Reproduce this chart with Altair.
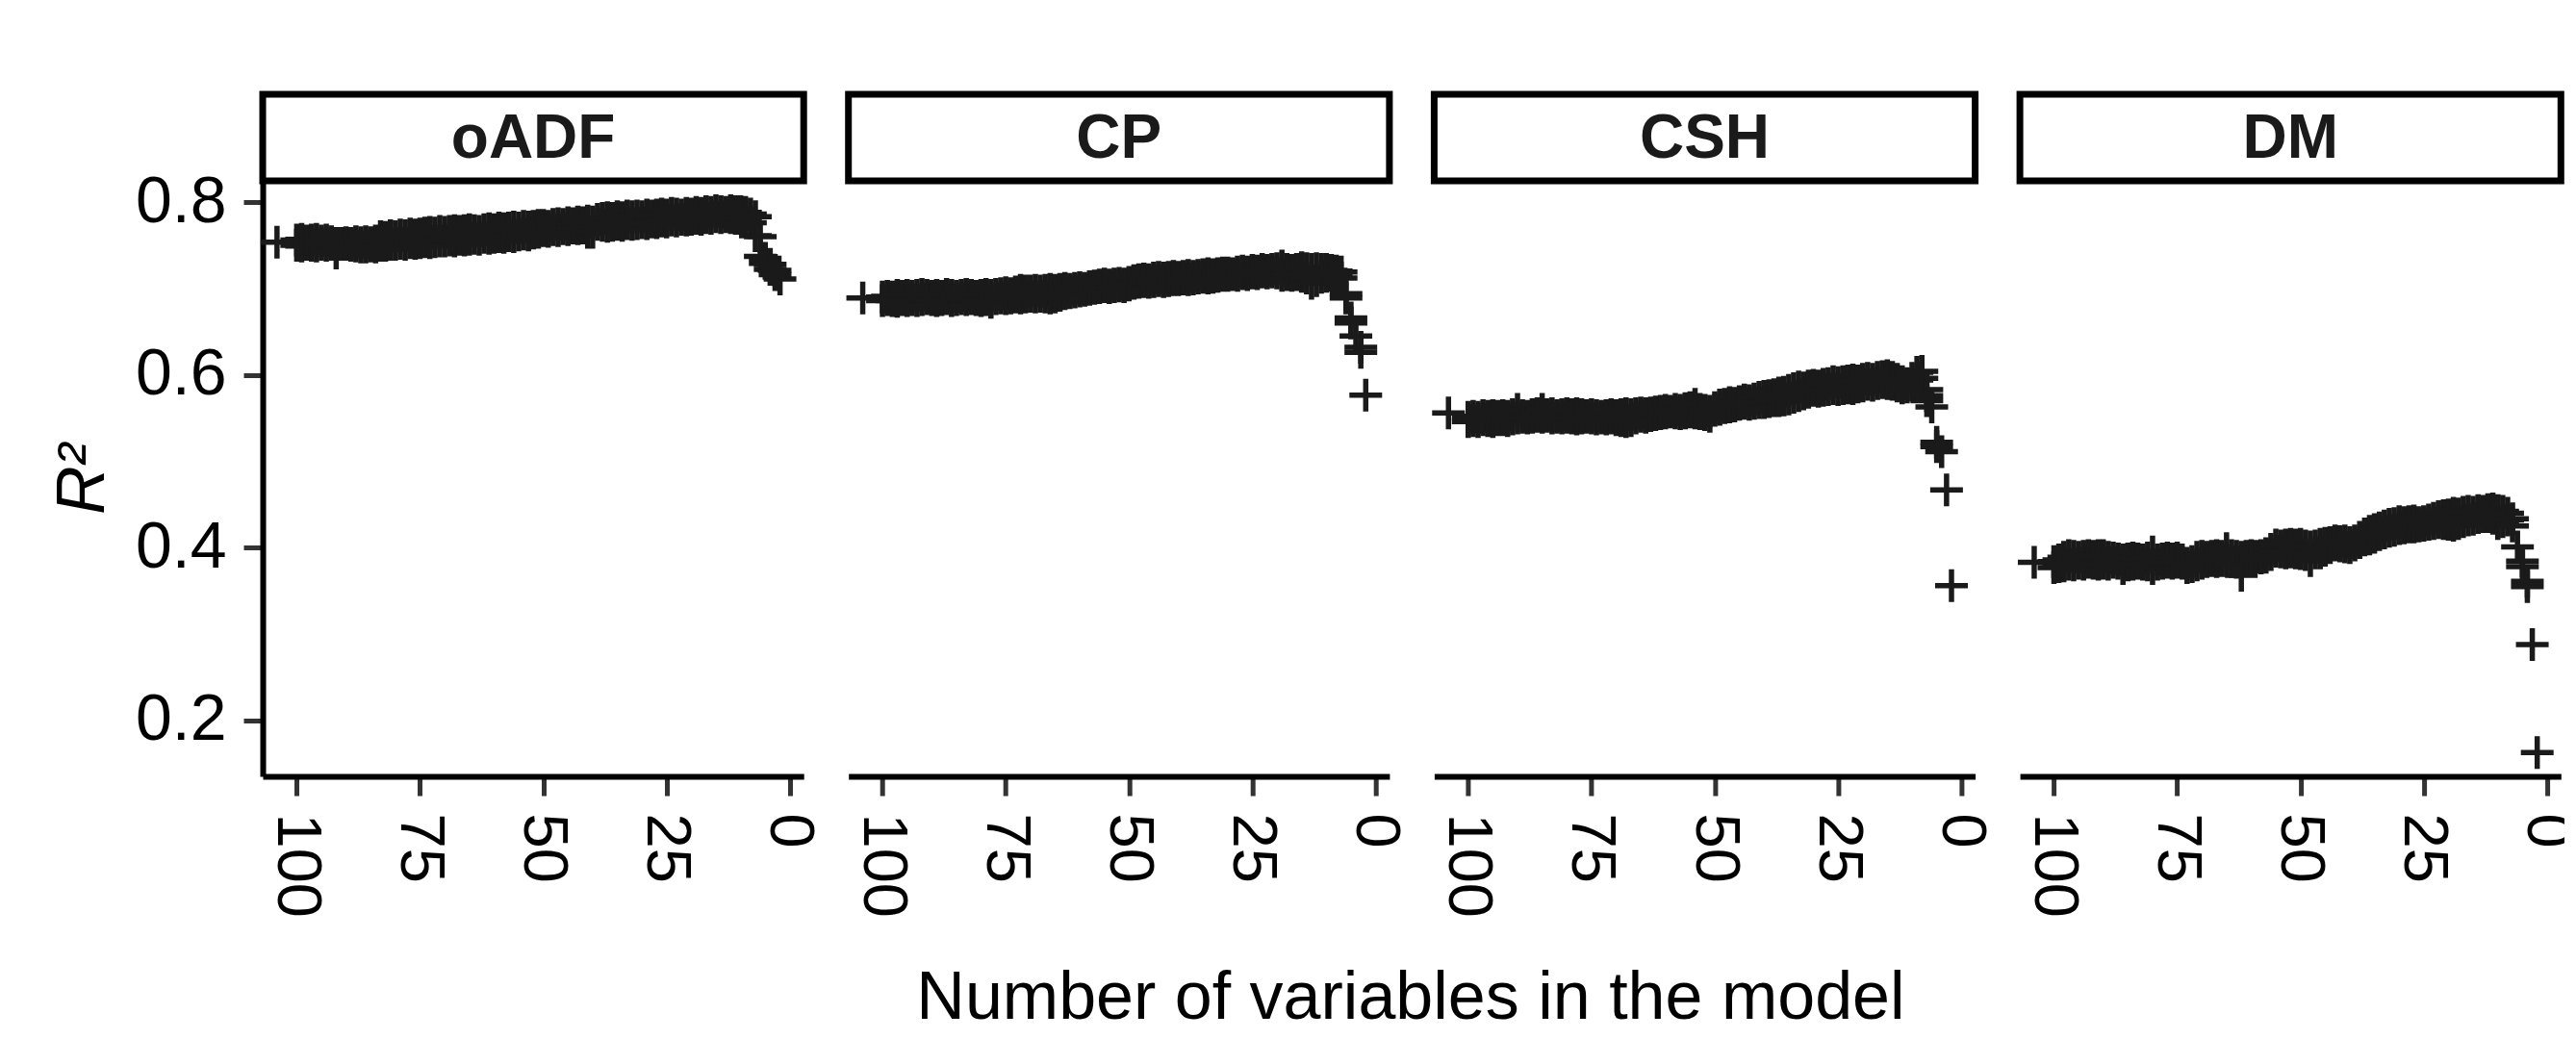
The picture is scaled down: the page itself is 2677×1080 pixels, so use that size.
import altair as alt
import pandas as pd

panels = ["oADF", "CP", "CSH", "DM"]
band_x = list(range(100, 8, -1))  # 100 .. 9

oadf_hi = [.756,.757,.755,.756,.757,.755,.756,.754,.752,.752,
           .753,.752,.754,.753,.754,.753,.755,.760,.759,.761,
           .760,.762,.761,.763,.762,.763,.764,.765,.764,.766,
           .765,.766,.767,.766,.767,.768,.767,.766,.768,.769,
           .768,.770,.769,.770,.771,.770,.772,.771,.772,.773,
           .773,.772,.774,.775,.774,.776,.775,.777,.776,.778,
           .777,.780,.781,.782,.781,.783,.782,.784,.783,.784,
           .783,.785,.784,.785,.786,.785,.787,.786,.785,.787,
           .786,.788,.787,.789,.788,.790,.789,.788,.790,.789,
           .789,.788]
oadf_lo = [.750,.749,.751,.750,.749,.751,.750,.751,.741,.751,
           .751,.750,.749,.748,.748,.749,.748,.750,.750,.751,
           .751,.752,.751,.753,.752,.753,.754,.753,.754,.755,
           .755,.756,.755,.757,.756,.757,.758,.757,.759,.758,
           .759,.760,.759,.761,.760,.762,.763,.762,.764,.765,
           .767,.766,.768,.767,.769,.768,.770,.769,.770,.765,
           .765,.774,.773,.772,.773,.774,.773,.775,.774,.775,
           .776,.775,.777,.776,.778,.777,.779,.778,.780,.779,
           .780,.781,.780,.782,.781,.783,.782,.783,.782,.781,
           .781,.782]
oadf_ex_x = [104, 8, 8, 7, 7, 6, 6, 5, 5, 4, 4, 3, 3, 2]
oadf_ex_v = [0.7536, 0.786, 0.776, 0.783, 0.761, 0.760, 0.737, 0.735, 0.729,
             0.728, 0.722, 0.721, 0.716, 0.711]

cp_hi = [.690,.691,.690,.692,.691,.692,.691,.692,.693,.692,
         .691,.692,.691,.693,.692,.691,.692,.693,.692,.691,
         .692,.693,.692,.693,.694,.695,.694,.696,.698,.697,
         .697,.698,.697,.698,.699,.698,.699,.700,.699,.700,
         .701,.700,.702,.703,.704,.705,.704,.705,.706,.705,
         .707,.709,.710,.711,.710,.712,.713,.712,.713,.714,
         .713,.714,.715,.714,.715,.716,.717,.716,.717,.718,
         .718,.717,.719,.720,.719,.721,.720,.722,.721,.722,
         .723,.726,.722,.721,.722,.724,.723,.722,.723,.722,
         .722,.721]
cp_lo = [.686,.687,.686,.685,.687,.686,.687,.686,.687,.688,
         .687,.686,.687,.688,.686,.687,.688,.687,.688,.687,
         .686,.687,.684,.688,.689,.688,.689,.690,.689,.690,
         .691,.690,.691,.690,.689,.690,.692,.694,.695,.696,
         .697,.698,.699,.700,.701,.702,.701,.702,.703,.702,
         .704,.706,.707,.708,.707,.708,.709,.708,.709,.710,
         .710,.711,.710,.711,.712,.713,.712,.713,.714,.715,
         .715,.716,.715,.717,.716,.718,.717,.719,.718,.719,
         .718,.715,.716,.715,.716,.714,.712,.706,.709,.713,
         .714,.715]
cp_ex_x = [104, 8, 8, 7, 7, 6, 6, 5, 5, 4, 3, 3, 2]
cp_ex_v = [0.689, 0.720, 0.714, 0.719, 0.712, 0.694, 0.689, 0.666, 0.660,
           0.645, 0.632, 0.626, 0.5765]

csh_hi = [.551,.552,.551,.553,.552,.553,.552,.553,.552,.554,
          .560,.553,.552,.554,.555,.560,.554,.555,.553,.554,
          .555,.554,.555,.554,.553,.554,.553,.552,.553,.554,
          .553,.554,.555,.554,.555,.556,.555,.556,.557,.558,
          .559,.558,.560,.559,.561,.562,.566,.560,.559,.558,
          .562,.565,.566,.568,.567,.569,.571,.570,.572,.574,
          .575,.576,.577,.579,.580,.582,.584,.586,.585,.587,
          .588,.587,.589,.590,.592,.591,.592,.593,.594,.593,
          .595,.596,.595,.597,.598,.599,.597,.595,.592,.590,
          .596,.603]
csh_lo = [.546,.547,.546,.548,.547,.546,.548,.548,.547,.549,
          .550,.551,.550,.551,.552,.551,.552,.550,.551,.550,
          .551,.550,.549,.550,.551,.550,.549,.550,.549,.550,
          .548,.547,.546,.547,.550,.552,.551,.553,.554,.555,
          .556,.557,.556,.555,.556,.557,.556,.555,.554,.552,
          .559,.560,.562,.563,.564,.566,.567,.566,.567,.568,
          .568,.569,.570,.570,.571,.572,.574,.576,.578,.580,
          .582,.581,.582,.583,.584,.583,.584,.585,.584,.586,
          .587,.589,.588,.590,.591,.590,.589,.587,.585,.586,
          .588,.594]
csh_ex_x = [104, 8, 8, 7, 7, 7, 6, 5, 5, 4, 3, 2]
csh_ex_v = [0.556, 0.604, 0.596, 0.583, 0.576, 0.570, 0.563, 0.522, 0.517,
            0.511, 0.467, 0.356]

dm_hi = [.384,.386,.389,.391,.390,.389,.390,.391,.390,.391,
         .391,.389,.388,.387,.386,.387,.388,.387,.386,.388,
         .395,.386,.387,.388,.387,.388,.386,.382,.384,.389,
         .390,.389,.390,.391,.390,.399,.391,.390,.389,.390,
         .391,.390,.391,.393,.398,.403,.402,.403,.404,.403,
         .404,.402,.401,.402,.404,.405,.406,.408,.407,.408,
         .406,.408,.412,.416,.419,.421,.423,.425,.427,.428,
         .430,.429,.430,.431,.429,.430,.432,.434,.436,.437,
         .438,.440,.439,.441,.442,.441,.443,.442,.444,.445,
         .443,.442]
dm_lo = [.377,.378,.379,.381,.380,.382,.381,.383,.382,.381,
         .382,.381,.383,.382,.376,.380,.381,.382,.381,.380,
         .376,.381,.382,.383,.382,.383,.382,.377,.378,.380,
         .382,.384,.385,.384,.385,.385,.384,.383,.368,.386,
         .387,.389,.388,.389,.392,.396,.395,.394,.395,.394,
         .393,.392,.385,.394,.394,.397,.400,.403,.402,.401,
         .400,.403,.406,.409,.410,.412,.415,.417,.419,.420,
         .422,.423,.424,.424,.425,.426,.427,.428,.429,.428,
         .427,.426,.428,.430,.432,.433,.435,.436,.436,.434,
         .428,.430]
dm_ex_x = [104, 8, 8, 7, 7, 6, 5, 5, 4, 4, 3, 2]
dm_ex_v = [0.383, 0.440, 0.432, 0.4336, 0.425, 0.401, 0.3846, 0.378, 0.361,
           0.355, 0.288, 0.163]

y_ticks = [0.2, 0.4, 0.6, 0.8]
x_ticks = [100, 75, 50, 25, 0]
x_title = "Number of variables in the model"

series = {
    "oADF": (oadf_hi, oadf_lo, oadf_ex_x, oadf_ex_v),
    "CP": (cp_hi, cp_lo, cp_ex_x, cp_ex_v),
    "CSH": (csh_hi, csh_lo, csh_ex_x, csh_ex_v),
    "DM": (dm_hi, dm_lo, dm_ex_x, dm_ex_v),
}
rows = []
for p, (hi, lo, ex_x, ex_v) in series.items():
    for xv, a, b in zip(band_x, hi, lo):
        rows.append({"panel": p, "x": xv, "r2": a})
        rows.append({"panel": p, "x": xv, "r2": b})
    for xv, v in zip(ex_x, ex_v):
        rows.append({"panel": p, "x": xv, "r2": v})
df = pd.DataFrame(rows)

FONT = "Liberation Sans"
W, H = 562.2, 619
SP = 45.7
STRIP_H = 90
CROSS = "M-1,0L1,0M0,-1L0,1"

xscale = alt.Scale(domain=[-2.8, 106.9], reverse=True, nice=False, zero=False)
yscale = alt.Scale(domain=[0.1354, 0.8245], nice=False, zero=False)


def panel(p, first):
    xaxis = alt.Axis(values=x_ticks, title=None, labelAngle=90, labelFontSize=65,
                     labelFont=FONT, labelColor="black", labelPadding=18,
                     tickSize=20, tickWidth=5, tickColor="#333333",
                     domainWidth=6, domainColor="black", grid=False,
                     labelFlush=False, labelOverlap=False)
    if first:
        yaxis = alt.Axis(values=y_ticks, format=".1f", title="R²", titleFont=FONT,
                         titleFontSize=70, titleFontStyle="italic",
                         titleFontWeight="normal", titleColor="black", titlePadding=18,
                         labelFontSize=68, labelFont=FONT, labelColor="black",
                         labelPadding=18, tickSize=20, tickWidth=5,
                         tickColor="#333333", domainWidth=6, domainColor="black",
                         grid=False, labelFlush=False, labelOverlap=False)
    else:
        yaxis = None
    pts = alt.Chart(df).transform_filter(alt.datum.panel == p).mark_point(
        shape=CROSS, filled=False, size=1156, strokeWidth=5.5,
        color="#1a1a1a", opacity=1
    ).encode(
        x=alt.X("x:Q", scale=xscale, axis=xaxis),
        y=alt.Y("r2:Q", scale=yscale, axis=yaxis),
    )
    sdf = pd.DataFrame({"panel": [p], "xt": [x_title]})
    box = alt.Chart(sdf).mark_rect(fill="white", stroke="black", strokeWidth=7).encode(
        x=alt.value(0), x2=alt.value(W), y=alt.value(-STRIP_H), y2=alt.value(0)
    )
    txt = alt.Chart(sdf).mark_text(fontSize=64, fontWeight="bold", font=FONT,
                                   color="#1a1a1a", align="center",
                                   baseline="middle").encode(
        x=alt.value(W / 2), y=alt.value(-STRIP_H / 2 + 2), text="panel:N"
    )
    layers = [pts, box, txt]
    if first:
        xt = alt.Chart(sdf).mark_text(fontSize=70, font=FONT, color="black",
                                      align="center", baseline="alphabetic").encode(
            x=alt.value((4 * W + 3 * SP) / 2), y=alt.value(871), text="xt:N"
        )
        layers.append(xt)
    return alt.layer(*layers).properties(
        width=W, height=H,
        view=alt.ViewBackground(stroke="transparent", strokeWidth=0),
    )


chart = alt.hconcat(*[panel(p, i == 0) for i, p in enumerate(panels)],
                    spacing=SP, bounds="flush").properties(
    padding={"left": 43, "top": 86, "right": -14, "bottom": 0},
).configure_view(strokeWidth=0, stroke="transparent").configure(background="white")

chart.save("out.html", embed_options={"renderer": "svg", "actions": False})
